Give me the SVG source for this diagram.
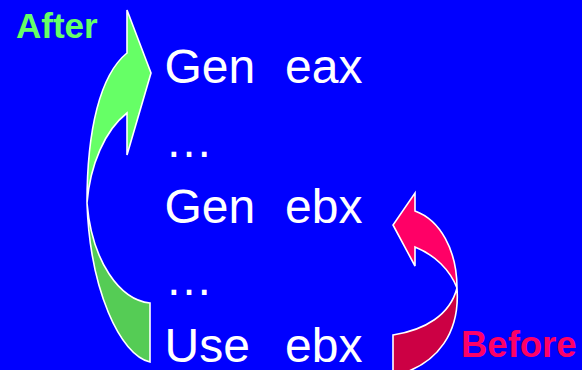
<svg xmlns="http://www.w3.org/2000/svg" width="582" height="370" viewBox="0 0 582 370">
  <style>
    .code { font-family: "Liberation Sans", Arial, sans-serif; font-size: 48px; fill: #ffffff; }
    .tag { font-family: "Liberation Sans", Arial, sans-serif; font-size: 35px; font-weight: bold; }
    .ribbon { stroke: #ffffff; stroke-width: 1.6; stroke-linejoin: miter; }
  </style>
  <rect x="0" y="0" width="582" height="370" fill="#0000ff"/>

  <!-- instruction listing -->
  <g id="line-gen-eax">
    <text class="code" x="164.5" y="83">Gen</text>
    <text class="code" x="285" y="83">eax</text>
  </g>
  <g id="line-dots-1">
    <text class="code" x="165" y="157">…</text>
  </g>
  <g id="line-gen-ebx">
    <text class="code" x="164.5" y="223">Gen</text>
    <text class="code" x="285" y="223">ebx</text>
  </g>
  <g id="line-dots-2">
    <text class="code" x="165" y="295">…</text>
  </g>
  <g id="line-use-ebx">
    <text class="code" x="164.5" y="362">Use</text>
    <text class="code" x="285" y="362">ebx</text>
  </g>

  <!-- labels -->
  <g id="label-after">
    <text class="tag" x="16" y="38" fill="#66ff66">After</text>
  </g>
  <g id="label-before">
    <text class="tag" x="461" y="357" fill="#ff0066" style="font-size:36.5px">Before</text>
  </g>

  <g id="connectors">
    <!-- long arrow: Use ebx up to Gen eax (twisted ribbon) -->
    <g id="arrow-after">
      <path class="ribbon" fill="#55cc55" d="M 87,203 C 90,290 120,355 150,362 L 150,303 C 120,300 92,262 87,203 Z"/>
      <path class="ribbon" fill="#66ff66" d="M 87,203 C 87,130 100,75 127,53 L 127,10 L 151,73 L 127,155 L 127,113 C 105,130 90,165 87,203 Z"/>
    </g>
    <!-- short arrow: Use ebx up to Gen ebx -->
    <g id="arrow-before">
      <path class="ribbon" fill="#cc0044" d="M 457,288 C 460,330 440,365 393,376 L 393,335 C 425,330 450,315 457,288 Z"/>
      <path class="ribbon" fill="#ff0066" d="M 415,211 C 440,220 457,250 457,288 C 450,270 435,255 415,247 L 415,266 L 393,225 L 415,193 Z"/>
    </g>
  </g>
</svg>
